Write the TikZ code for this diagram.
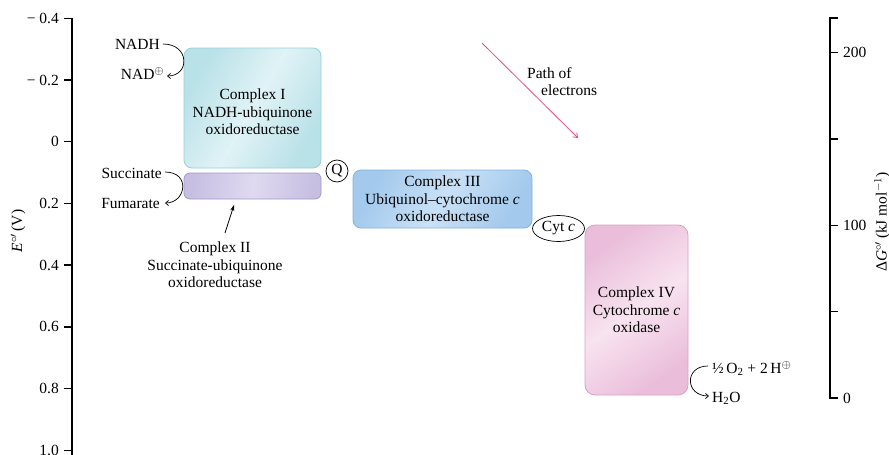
\documentclass[tikz,border=0pt]{standalone}
\usepackage{fontspec}
\setmainfont{Liberation Serif}
\usetikzlibrary{arrows.meta,shapes.geometric}
\definecolor{cIa}{HTML}{B9E1E8}
\definecolor{cIb}{HTML}{E0F3F6}
\definecolor{cId}{HTML}{9AD0DA}
\definecolor{cIIa}{HTML}{C6BFE2}
\definecolor{cIIb}{HTML}{DFDAF0}
\definecolor{cIId}{HTML}{A398CC}
\definecolor{cIIIa}{HTML}{A3C9EC}
\definecolor{cIIIb}{HTML}{C9E1F6}
\definecolor{cIIId}{HTML}{85B3E0}
\definecolor{cIVa}{HTML}{EABDDA}
\definecolor{cIVb}{HTML}{F8E3F0}
\definecolor{cIVd}{HTML}{D8A2C6}
\definecolor{pathred}{HTML}{E4507F}
\newcommand{\myplus}{\raisebox{4.5pt}{\fontsize{11.5}{11.5}\selectfont$\oplus$}}
\begin{document}
\begin{tikzpicture}[x=1pt,y=-1pt,
  lbl/.style={font=\fontsize{15.5}{17.5}\selectfont, inner sep=0pt, align=center},
  cplx/.style={rounded corners=8pt, inner sep=0pt, line width=0.8pt},
  axisline/.style={line width=1.6pt},
  tk/.style={line width=1.4pt},
  bendarrow/.style={line width=0.7pt, -{Straight Barb[length=3pt,width=5pt]}},
  patharrow/.style={line width=0.8pt, draw=pathred, -{Straight Barb[length=4pt,width=6pt]}},
  ptr/.style={line width=0.8pt, -{Stealth[length=6pt,width=4pt]}},
  carrier/.style={draw, line width=0.7pt, inner sep=0pt, font=\fontsize{15.5}{17.5}\selectfont},
]
\useasboundingbox (0,0) rectangle (889,455);
\fill[white] (0,0) rectangle (889,455);

% ---------- left axis ----------
\draw[axisline] (72,18.3) -- (72,455);
\foreach \yy/\tt/\nn in {18.3/{− 0.4}/la, 80/{− 0.2}/lb, 141.7/{0}/lc, 203.4/{0.2}/ld,
    265.1/{0.4}/le, 326.8/{0.6}/lf, 388.5/{0.8}/lg, 450.2/{1.0}/lh}{
  \draw[tk] (64,\yy) -- (72.8,\yy);
  \node[lbl, anchor=east] (\nn) at (59,\yy) {\tt};
}
\node[lbl, rotate=90] (elab) at (18,231) {\textit{E}$^{\circ\prime}$\,(V)};

% ---------- right axis ----------
\draw[axisline] (838,18) -- (830,18) -- (830,398) -- (838,398);
\foreach \yy in {52.7,139,225.3,311.7}{
  \draw[tk] (829.2,\yy) -- (838,\yy);
}
\node[lbl, anchor=west] (r200) at (843,52.7) {200};
\node[lbl, anchor=west] (r100) at (843,225.3) {100};
\node[lbl, anchor=west] (r0) at (843,398) {0};
\node[lbl, rotate=90] (glab) at (882,222) {Δ\textit{G}$^{\circ\prime}$\,(kJ mol$^{-1}$)};

% ---------- complexes ----------
\node[cplx, draw=cId, left color=cIa, right color=cIa, middle color=cIb, shading angle=60,
      minimum width=137pt, minimum height=120pt] (c1) at (252.5,108) {};
\node[lbl] (c1t) at (252.5,112) {Complex I\\NADH-ubiquinone\\oxidoreductase};

\node[cplx, rounded corners=6pt, draw=cIId, left color=cIIa, right color=cIIa, middle color=cIIb, shading angle=80,
      minimum width=137pt, minimum height=26pt] (c2) at (252.5,186) {};

\node[cplx, draw=cIIId, left color=cIIIa, right color=cIIIa, middle color=cIIIb, shading angle=60,
      minimum width=179pt, minimum height=58pt, lbl] (c3) at (442.5,199)
      {Complex III\\Ubiquinol–cytochrome \textit{c}\\oxidoreductase};

\node[cplx, rounded corners=10pt, draw=cIVd, left color=cIVa, right color=cIVa, middle color=cIVb, shading angle=35,
      minimum width=103pt, minimum height=170pt, lbl] (c4) at (636.5,310)
      {Complex IV\\Cytochrome \textit{c}\\oxidase};

% ---------- carriers ----------
\node[carrier, circle, minimum size=22pt] (q) at (337,171) {Q};
\node[carrier, ellipse, minimum width=52pt, minimum height=26pt] (cytc) at (558.5,228.5) {Cyt \textit{c}};

% ---------- substrates ----------
\node[lbl, anchor=east] (nadh) at (160,44) {NADH};
\node[lbl, anchor=base east] (nad) at (164,79) {NAD\myplus};
\draw[bendarrow] ([xshift=3pt]nadh.east) .. controls +(27,0) and +(23,0) .. ([xshift=3pt,yshift=3pt]nad.base east);

\node[lbl, anchor=east] (succ) at (162,173) {Succinate};
\node[lbl, anchor=east] (fum) at (160,203) {Fumarate};
\draw[bendarrow] ([xshift=3pt,yshift=1pt]succ.east) .. controls +(26,0) and +(21,0) .. ([xshift=5pt]fum.east);

\node[lbl, anchor=base west] (o2) at (712,373) {½\,O\textsubscript{2} + 2\,H\myplus};
\node[lbl, anchor=base west] (h2o) at (712,402) {H\textsubscript{2}O};
\draw[bendarrow] ([xshift=-4pt,yshift=7pt]o2.base west) .. controls +(-24,0) and +(-24,0) .. ([xshift=-3pt,yshift=6pt]h2o.base west);

% ---------- complex II label ----------
\node[lbl] (c2l) at (215,265) {Complex II\\Succinate-ubiquinone\\oxidoreductase};
\coordinate (c2a) at (225,233);
\coordinate (c2b) at (234,205);
\draw[ptr] (c2a) -- (c2b);

% ---------- path of electrons ----------
\coordinate (pa) at (482,43);
\coordinate (pb) at (578,138);
\draw[patharrow] (pa) -- (pb);
\node[lbl, anchor=west] (path1) at (527,73) {Path of};
\node[lbl, anchor=west] (path2) at (541,90) {electrons};
\end{tikzpicture}
\end{document}
